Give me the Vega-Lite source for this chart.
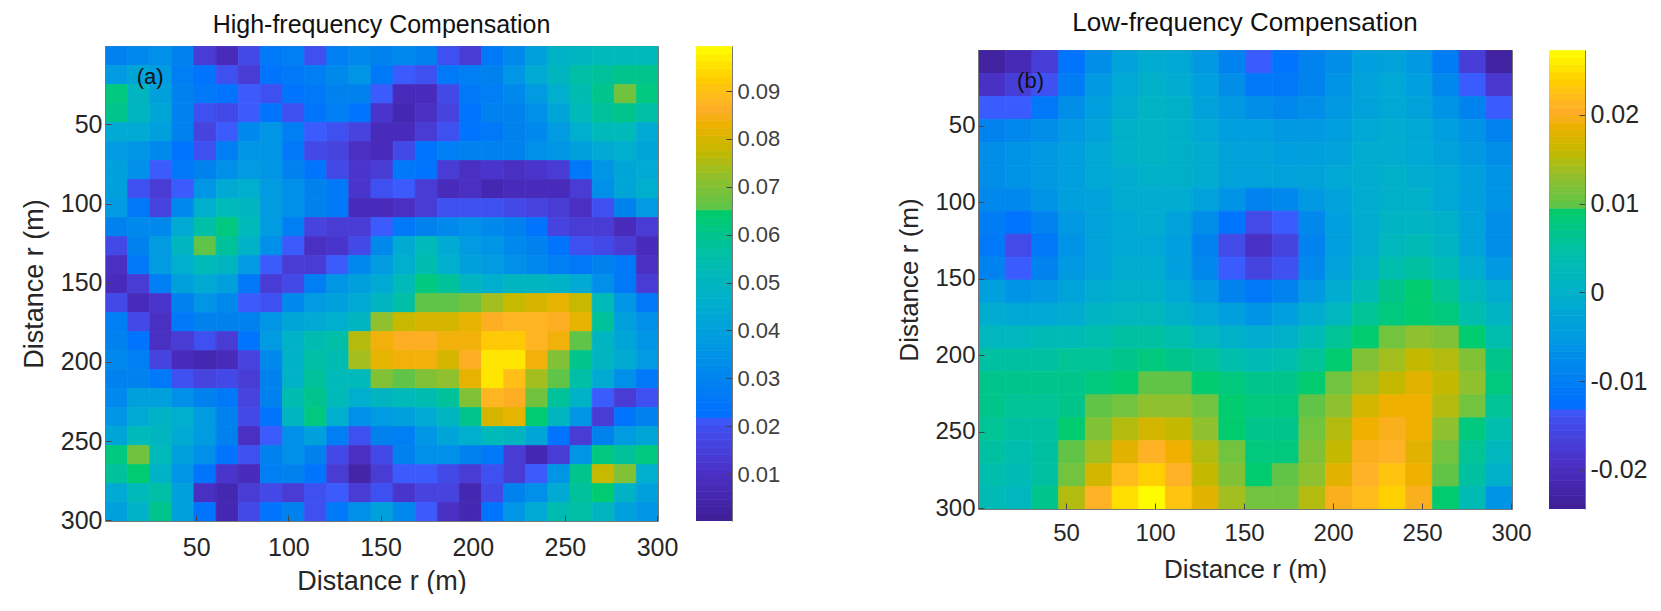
{"$schema":"https://vega.github.io/schema/vega-lite/v6.json","padding":{"left":20,"top":10,"right":0,"bottom":0},"background":"white","bounds":"full","spacing":116,"resolve":{"scale":{"fill":"independent","stroke":"independent"}},"config":{"view":{"stroke":null},"font":"Liberation Sans","axis":{"grid":false,"labelFont":"Liberation Sans","titleFont":"Liberation Sans","titleFontWeight":"normal","labelColor":"#262626","titleColor":"#262626","domainColor":"#777777","tickColor":"#444444","tickSize":-6,"labelFlush":false,"labelOverlap":false},"title":{"font":"Liberation Sans","fontWeight":"normal","color":"#111111"}},
"datasets":{"hf":[
{"x":6,"y":6,"v":0.03},{"x":18,"y":6,"v":0.032},{"x":30,"y":6,"v":0.034},{"x":42,"y":6,"v":0.03},{"x":54,"y":6,"v":0.014},{"x":66,"y":6,"v":0.008},{"x":78,"y":6,"v":0.018},{"x":90,"y":6,"v":0.026},{"x":102,"y":6,"v":0.028},{"x":114,"y":6,"v":0.02},{"x":126,"y":6,"v":0.028},{"x":138,"y":6,"v":0.032},{"x":150,"y":6,"v":0.03},{"x":162,"y":6,"v":0.032},{"x":174,"y":6,"v":0.03},{"x":186,"y":6,"v":0.02},{"x":198,"y":6,"v":0.014},{"x":210,"y":6,"v":0.026},{"x":222,"y":6,"v":0.032},{"x":234,"y":6,"v":0.04},{"x":246,"y":6,"v":0.048},{"x":258,"y":6,"v":0.05},{"x":270,"y":6,"v":0.052},{"x":282,"y":6,"v":0.052},{"x":294,"y":6,"v":0.052},
{"x":6,"y":18,"v":0.038},{"x":18,"y":18,"v":0.042},{"x":30,"y":18,"v":0.038},{"x":42,"y":18,"v":0.028},{"x":54,"y":18,"v":0.024},{"x":66,"y":18,"v":0.02},{"x":78,"y":18,"v":0.014},{"x":90,"y":18,"v":0.024},{"x":102,"y":18,"v":0.026},{"x":114,"y":18,"v":0.028},{"x":126,"y":18,"v":0.032},{"x":138,"y":18,"v":0.036},{"x":150,"y":18,"v":0.026},{"x":162,"y":18,"v":0.022},{"x":174,"y":18,"v":0.02},{"x":186,"y":18,"v":0.026},{"x":198,"y":18,"v":0.028},{"x":210,"y":18,"v":0.03},{"x":222,"y":18,"v":0.036},{"x":234,"y":18,"v":0.044},{"x":246,"y":18,"v":0.05},{"x":258,"y":18,"v":0.056},{"x":270,"y":18,"v":0.058},{"x":282,"y":18,"v":0.06},{"x":294,"y":18,"v":0.06},
{"x":6,"y":30,"v":0.062},{"x":18,"y":30,"v":0.05},{"x":30,"y":30,"v":0.04},{"x":42,"y":30,"v":0.03},{"x":54,"y":30,"v":0.026},{"x":66,"y":30,"v":0.024},{"x":78,"y":30,"v":0.022},{"x":90,"y":30,"v":0.02},{"x":102,"y":30,"v":0.024},{"x":114,"y":30,"v":0.026},{"x":126,"y":30,"v":0.03},{"x":138,"y":30,"v":0.03},{"x":150,"y":30,"v":0.022},{"x":162,"y":30,"v":0.008},{"x":174,"y":30,"v":0.008},{"x":186,"y":30,"v":0.018},{"x":198,"y":30,"v":0.026},{"x":210,"y":30,"v":0.028},{"x":222,"y":30,"v":0.032},{"x":234,"y":30,"v":0.038},{"x":246,"y":30,"v":0.046},{"x":258,"y":30,"v":0.054},{"x":270,"y":30,"v":0.06},{"x":282,"y":30,"v":0.068},{"x":294,"y":30,"v":0.062},
{"x":6,"y":42,"v":0.06},{"x":18,"y":42,"v":0.05},{"x":30,"y":42,"v":0.042},{"x":42,"y":42,"v":0.03},{"x":54,"y":42,"v":0.02},{"x":66,"y":42,"v":0.018},{"x":78,"y":42,"v":0.022},{"x":90,"y":42,"v":0.024},{"x":102,"y":42,"v":0.02},{"x":114,"y":42,"v":0.024},{"x":126,"y":42,"v":0.028},{"x":138,"y":42,"v":0.024},{"x":150,"y":42,"v":0.012},{"x":162,"y":42,"v":0.006},{"x":174,"y":42,"v":0.01},{"x":186,"y":42,"v":0.016},{"x":198,"y":42,"v":0.024},{"x":210,"y":42,"v":0.03},{"x":222,"y":42,"v":0.03},{"x":234,"y":42,"v":0.034},{"x":246,"y":42,"v":0.042},{"x":258,"y":42,"v":0.052},{"x":270,"y":42,"v":0.058},{"x":282,"y":42,"v":0.06},{"x":294,"y":42,"v":0.056},
{"x":6,"y":54,"v":0.044},{"x":18,"y":54,"v":0.044},{"x":30,"y":54,"v":0.04},{"x":42,"y":54,"v":0.03},{"x":54,"y":54,"v":0.016},{"x":66,"y":54,"v":0.022},{"x":78,"y":54,"v":0.032},{"x":90,"y":54,"v":0.036},{"x":102,"y":54,"v":0.028},{"x":114,"y":54,"v":0.022},{"x":126,"y":54,"v":0.02},{"x":138,"y":54,"v":0.016},{"x":150,"y":54,"v":0.008},{"x":162,"y":54,"v":0.008},{"x":174,"y":54,"v":0.014},{"x":186,"y":54,"v":0.02},{"x":198,"y":54,"v":0.024},{"x":210,"y":54,"v":0.026},{"x":222,"y":54,"v":0.03},{"x":234,"y":54,"v":0.032},{"x":246,"y":54,"v":0.038},{"x":258,"y":54,"v":0.046},{"x":270,"y":54,"v":0.052},{"x":282,"y":54,"v":0.052},{"x":294,"y":54,"v":0.044},
{"x":6,"y":66,"v":0.038},{"x":18,"y":66,"v":0.036},{"x":30,"y":66,"v":0.032},{"x":42,"y":66,"v":0.024},{"x":54,"y":66,"v":0.02},{"x":66,"y":66,"v":0.028},{"x":78,"y":66,"v":0.036},{"x":90,"y":66,"v":0.036},{"x":102,"y":66,"v":0.026},{"x":114,"y":66,"v":0.018},{"x":126,"y":66,"v":0.016},{"x":138,"y":66,"v":0.01},{"x":150,"y":66,"v":0.008},{"x":162,"y":66,"v":0.018},{"x":174,"y":66,"v":0.024},{"x":186,"y":66,"v":0.028},{"x":198,"y":66,"v":0.03},{"x":210,"y":66,"v":0.03},{"x":222,"y":66,"v":0.03},{"x":234,"y":66,"v":0.034},{"x":246,"y":66,"v":0.036},{"x":258,"y":66,"v":0.04},{"x":270,"y":66,"v":0.044},{"x":282,"y":66,"v":0.046},{"x":294,"y":66,"v":0.042},
{"x":6,"y":78,"v":0.04},{"x":18,"y":78,"v":0.034},{"x":30,"y":78,"v":0.022},{"x":42,"y":78,"v":0.026},{"x":54,"y":78,"v":0.03},{"x":66,"y":78,"v":0.034},{"x":78,"y":78,"v":0.038},{"x":90,"y":78,"v":0.036},{"x":102,"y":78,"v":0.03},{"x":114,"y":78,"v":0.024},{"x":126,"y":78,"v":0.018},{"x":138,"y":78,"v":0.012},{"x":150,"y":78,"v":0.014},{"x":162,"y":78,"v":0.026},{"x":174,"y":78,"v":0.024},{"x":186,"y":78,"v":0.014},{"x":198,"y":78,"v":0.01},{"x":210,"y":78,"v":0.012},{"x":222,"y":78,"v":0.01},{"x":234,"y":78,"v":0.012},{"x":246,"y":78,"v":0.014},{"x":258,"y":78,"v":0.026},{"x":270,"y":78,"v":0.036},{"x":282,"y":78,"v":0.042},{"x":294,"y":78,"v":0.044},
{"x":6,"y":90,"v":0.04},{"x":18,"y":90,"v":0.02},{"x":30,"y":90,"v":0.014},{"x":42,"y":90,"v":0.022},{"x":54,"y":90,"v":0.036},{"x":66,"y":90,"v":0.044},{"x":78,"y":90,"v":0.046},{"x":90,"y":90,"v":0.038},{"x":102,"y":90,"v":0.034},{"x":114,"y":90,"v":0.03},{"x":126,"y":90,"v":0.026},{"x":138,"y":90,"v":0.012},{"x":150,"y":90,"v":0.02},{"x":162,"y":90,"v":0.022},{"x":174,"y":90,"v":0.014},{"x":186,"y":90,"v":0.008},{"x":198,"y":90,"v":0.01},{"x":210,"y":90,"v":0.006},{"x":222,"y":90,"v":0.008},{"x":234,"y":90,"v":0.008},{"x":246,"y":90,"v":0.008},{"x":258,"y":90,"v":0.014},{"x":270,"y":90,"v":0.034},{"x":282,"y":90,"v":0.042},{"x":294,"y":90,"v":0.046},
{"x":6,"y":102,"v":0.038},{"x":18,"y":102,"v":0.026},{"x":30,"y":102,"v":0.016},{"x":42,"y":102,"v":0.032},{"x":54,"y":102,"v":0.046},{"x":66,"y":102,"v":0.052},{"x":78,"y":102,"v":0.05},{"x":90,"y":102,"v":0.038},{"x":102,"y":102,"v":0.034},{"x":114,"y":102,"v":0.03},{"x":126,"y":102,"v":0.026},{"x":138,"y":102,"v":0.008},{"x":150,"y":102,"v":0.008},{"x":162,"y":102,"v":0.01},{"x":174,"y":102,"v":0.014},{"x":186,"y":102,"v":0.02},{"x":198,"y":102,"v":0.02},{"x":210,"y":102,"v":0.02},{"x":222,"y":102,"v":0.018},{"x":234,"y":102,"v":0.016},{"x":246,"y":102,"v":0.014},{"x":258,"y":102,"v":0.01},{"x":270,"y":102,"v":0.02},{"x":282,"y":102,"v":0.03},{"x":294,"y":102,"v":0.038},
{"x":6,"y":114,"v":0.03},{"x":18,"y":114,"v":0.032},{"x":30,"y":114,"v":0.032},{"x":42,"y":114,"v":0.044},{"x":54,"y":114,"v":0.056},{"x":66,"y":114,"v":0.062},{"x":78,"y":114,"v":0.052},{"x":90,"y":114,"v":0.038},{"x":102,"y":114,"v":0.028},{"x":114,"y":114,"v":0.016},{"x":126,"y":114,"v":0.014},{"x":138,"y":114,"v":0.014},{"x":150,"y":114,"v":0.022},{"x":162,"y":114,"v":0.026},{"x":174,"y":114,"v":0.03},{"x":186,"y":114,"v":0.032},{"x":198,"y":114,"v":0.034},{"x":210,"y":114,"v":0.032},{"x":222,"y":114,"v":0.03},{"x":234,"y":114,"v":0.024},{"x":246,"y":114,"v":0.016},{"x":258,"y":114,"v":0.014},{"x":270,"y":114,"v":0.014},{"x":282,"y":114,"v":0.008},{"x":294,"y":114,"v":0.014},
{"x":6,"y":126,"v":0.018},{"x":18,"y":126,"v":0.03},{"x":30,"y":126,"v":0.038},{"x":42,"y":126,"v":0.05},{"x":54,"y":126,"v":0.066},{"x":66,"y":126,"v":0.058},{"x":78,"y":126,"v":0.048},{"x":90,"y":126,"v":0.034},{"x":102,"y":126,"v":0.022},{"x":114,"y":126,"v":0.01},{"x":126,"y":126,"v":0.012},{"x":138,"y":126,"v":0.018},{"x":150,"y":126,"v":0.032},{"x":162,"y":126,"v":0.044},{"x":174,"y":126,"v":0.052},{"x":186,"y":126,"v":0.044},{"x":198,"y":126,"v":0.038},{"x":210,"y":126,"v":0.036},{"x":222,"y":126,"v":0.032},{"x":234,"y":126,"v":0.03},{"x":246,"y":126,"v":0.024},{"x":258,"y":126,"v":0.02},{"x":270,"y":126,"v":0.018},{"x":282,"y":126,"v":0.014},{"x":294,"y":126,"v":0.008},
{"x":6,"y":138,"v":0.01},{"x":18,"y":138,"v":0.026},{"x":30,"y":138,"v":0.038},{"x":42,"y":138,"v":0.046},{"x":54,"y":138,"v":0.052},{"x":66,"y":138,"v":0.05},{"x":78,"y":138,"v":0.038},{"x":90,"y":138,"v":0.022},{"x":102,"y":138,"v":0.014},{"x":114,"y":138,"v":0.014},{"x":126,"y":138,"v":0.022},{"x":138,"y":138,"v":0.032},{"x":150,"y":138,"v":0.038},{"x":162,"y":138,"v":0.046},{"x":174,"y":138,"v":0.054},{"x":186,"y":138,"v":0.046},{"x":198,"y":138,"v":0.04},{"x":210,"y":138,"v":0.038},{"x":222,"y":138,"v":0.034},{"x":234,"y":138,"v":0.032},{"x":246,"y":138,"v":0.028},{"x":258,"y":138,"v":0.026},{"x":270,"y":138,"v":0.03},{"x":282,"y":138,"v":0.026},{"x":294,"y":138,"v":0.01},
{"x":6,"y":150,"v":0.008},{"x":18,"y":150,"v":0.014},{"x":30,"y":150,"v":0.028},{"x":42,"y":150,"v":0.04},{"x":54,"y":150,"v":0.044},{"x":66,"y":150,"v":0.04},{"x":78,"y":150,"v":0.026},{"x":90,"y":150,"v":0.014},{"x":102,"y":150,"v":0.018},{"x":114,"y":150,"v":0.028},{"x":126,"y":150,"v":0.036},{"x":138,"y":150,"v":0.04},{"x":150,"y":150,"v":0.044},{"x":162,"y":150,"v":0.052},{"x":174,"y":150,"v":0.062},{"x":186,"y":150,"v":0.058},{"x":198,"y":150,"v":0.05},{"x":210,"y":150,"v":0.046},{"x":222,"y":150,"v":0.05},{"x":234,"y":150,"v":0.05},{"x":246,"y":150,"v":0.048},{"x":258,"y":150,"v":0.044},{"x":270,"y":150,"v":0.034},{"x":282,"y":150,"v":0.026},{"x":294,"y":150,"v":0.014},
{"x":6,"y":162,"v":0.018},{"x":18,"y":162,"v":0.008},{"x":30,"y":162,"v":0.012},{"x":42,"y":162,"v":0.03},{"x":54,"y":162,"v":0.036},{"x":66,"y":162,"v":0.032},{"x":78,"y":162,"v":0.022},{"x":90,"y":162,"v":0.02},{"x":102,"y":162,"v":0.032},{"x":114,"y":162,"v":0.038},{"x":126,"y":162,"v":0.04},{"x":138,"y":162,"v":0.044},{"x":150,"y":162,"v":0.05},{"x":162,"y":162,"v":0.056},{"x":174,"y":162,"v":0.066},{"x":186,"y":162,"v":0.066},{"x":198,"y":162,"v":0.068},{"x":210,"y":162,"v":0.074},{"x":222,"y":162,"v":0.078},{"x":234,"y":162,"v":0.08},{"x":246,"y":162,"v":0.082},{"x":258,"y":162,"v":0.078},{"x":270,"y":162,"v":0.052},{"x":282,"y":162,"v":0.036},{"x":294,"y":162,"v":0.026},
{"x":6,"y":174,"v":0.028},{"x":18,"y":174,"v":0.018},{"x":30,"y":174,"v":0.01},{"x":42,"y":174,"v":0.026},{"x":54,"y":174,"v":0.03},{"x":66,"y":174,"v":0.03},{"x":78,"y":174,"v":0.03},{"x":90,"y":174,"v":0.036},{"x":102,"y":174,"v":0.042},{"x":114,"y":174,"v":0.044},{"x":126,"y":174,"v":0.046},{"x":138,"y":174,"v":0.05},{"x":150,"y":174,"v":0.072},{"x":162,"y":174,"v":0.078},{"x":174,"y":174,"v":0.08},{"x":186,"y":174,"v":0.08},{"x":198,"y":174,"v":0.082},{"x":210,"y":174,"v":0.086},{"x":222,"y":174,"v":0.088},{"x":234,"y":174,"v":0.088},{"x":246,"y":174,"v":0.086},{"x":258,"y":174,"v":0.082},{"x":270,"y":174,"v":0.058},{"x":282,"y":174,"v":0.04},{"x":294,"y":174,"v":0.034},
{"x":6,"y":186,"v":0.03},{"x":18,"y":186,"v":0.024},{"x":30,"y":186,"v":0.01},{"x":42,"y":186,"v":0.014},{"x":54,"y":186,"v":0.02},{"x":66,"y":186,"v":0.014},{"x":78,"y":186,"v":0.024},{"x":90,"y":186,"v":0.038},{"x":102,"y":186,"v":0.048},{"x":114,"y":186,"v":0.054},{"x":126,"y":186,"v":0.056},{"x":138,"y":186,"v":0.076},{"x":150,"y":186,"v":0.084},{"x":162,"y":186,"v":0.086},{"x":174,"y":186,"v":0.086},{"x":186,"y":186,"v":0.084},{"x":198,"y":186,"v":0.084},{"x":210,"y":186,"v":0.092},{"x":222,"y":186,"v":0.092},{"x":234,"y":186,"v":0.088},{"x":246,"y":186,"v":0.084},{"x":258,"y":186,"v":0.066},{"x":270,"y":186,"v":0.05},{"x":282,"y":186,"v":0.042},{"x":294,"y":186,"v":0.036},
{"x":6,"y":198,"v":0.032},{"x":18,"y":198,"v":0.028},{"x":30,"y":198,"v":0.016},{"x":42,"y":198,"v":0.008},{"x":54,"y":198,"v":0.006},{"x":66,"y":198,"v":0.008},{"x":78,"y":198,"v":0.016},{"x":90,"y":198,"v":0.032},{"x":102,"y":198,"v":0.048},{"x":114,"y":198,"v":0.056},{"x":126,"y":198,"v":0.054},{"x":138,"y":198,"v":0.074},{"x":150,"y":198,"v":0.082},{"x":162,"y":198,"v":0.084},{"x":174,"y":198,"v":0.084},{"x":186,"y":198,"v":0.08},{"x":198,"y":198,"v":0.086},{"x":210,"y":198,"v":0.096},{"x":222,"y":198,"v":0.096},{"x":234,"y":198,"v":0.084},{"x":246,"y":198,"v":0.07},{"x":258,"y":198,"v":0.06},{"x":270,"y":198,"v":0.05},{"x":282,"y":198,"v":0.044},{"x":294,"y":198,"v":0.038},
{"x":6,"y":210,"v":0.03},{"x":18,"y":210,"v":0.03},{"x":30,"y":210,"v":0.026},{"x":42,"y":210,"v":0.02},{"x":54,"y":210,"v":0.016},{"x":66,"y":210,"v":0.018},{"x":78,"y":210,"v":0.014},{"x":90,"y":210,"v":0.03},{"x":102,"y":210,"v":0.048},{"x":114,"y":210,"v":0.058},{"x":126,"y":210,"v":0.052},{"x":138,"y":210,"v":0.052},{"x":150,"y":210,"v":0.07},{"x":162,"y":210,"v":0.066},{"x":174,"y":210,"v":0.07},{"x":186,"y":210,"v":0.072},{"x":198,"y":210,"v":0.082},{"x":210,"y":210,"v":0.096},{"x":222,"y":210,"v":0.09},{"x":234,"y":210,"v":0.074},{"x":246,"y":210,"v":0.066},{"x":258,"y":210,"v":0.056},{"x":270,"y":210,"v":0.044},{"x":282,"y":210,"v":0.034},{"x":294,"y":210,"v":0.026},
{"x":6,"y":222,"v":0.032},{"x":18,"y":222,"v":0.04},{"x":30,"y":222,"v":0.04},{"x":42,"y":222,"v":0.034},{"x":54,"y":222,"v":0.03},{"x":66,"y":222,"v":0.026},{"x":78,"y":222,"v":0.016},{"x":90,"y":222,"v":0.03},{"x":102,"y":222,"v":0.054},{"x":114,"y":222,"v":0.06},{"x":126,"y":222,"v":0.052},{"x":138,"y":222,"v":0.046},{"x":150,"y":222,"v":0.05},{"x":162,"y":222,"v":0.052},{"x":174,"y":222,"v":0.054},{"x":186,"y":222,"v":0.058},{"x":198,"y":222,"v":0.07},{"x":210,"y":222,"v":0.088},{"x":222,"y":222,"v":0.086},{"x":234,"y":222,"v":0.068},{"x":246,"y":222,"v":0.058},{"x":258,"y":222,"v":0.048},{"x":270,"y":222,"v":0.022},{"x":282,"y":222,"v":0.014},{"x":294,"y":222,"v":0.02},
{"x":6,"y":234,"v":0.036},{"x":18,"y":234,"v":0.044},{"x":30,"y":234,"v":0.048},{"x":42,"y":234,"v":0.046},{"x":54,"y":234,"v":0.038},{"x":66,"y":234,"v":0.03},{"x":78,"y":234,"v":0.018},{"x":90,"y":234,"v":0.024},{"x":102,"y":234,"v":0.05},{"x":114,"y":234,"v":0.062},{"x":126,"y":234,"v":0.046},{"x":138,"y":234,"v":0.034},{"x":150,"y":234,"v":0.038},{"x":162,"y":234,"v":0.04},{"x":174,"y":234,"v":0.044},{"x":186,"y":234,"v":0.05},{"x":198,"y":234,"v":0.06},{"x":210,"y":234,"v":0.08},{"x":222,"y":234,"v":0.082},{"x":234,"y":234,"v":0.064},{"x":246,"y":234,"v":0.05},{"x":258,"y":234,"v":0.036},{"x":270,"y":234,"v":0.014},{"x":282,"y":234,"v":0.024},{"x":294,"y":234,"v":0.03},
{"x":6,"y":246,"v":0.042},{"x":18,"y":246,"v":0.052},{"x":30,"y":246,"v":0.05},{"x":42,"y":246,"v":0.044},{"x":54,"y":246,"v":0.038},{"x":66,"y":246,"v":0.03},{"x":78,"y":246,"v":0.01},{"x":90,"y":246,"v":0.022},{"x":102,"y":246,"v":0.034},{"x":114,"y":246,"v":0.04},{"x":126,"y":246,"v":0.028},{"x":138,"y":246,"v":0.02},{"x":150,"y":246,"v":0.03},{"x":162,"y":246,"v":0.028},{"x":174,"y":246,"v":0.036},{"x":186,"y":246,"v":0.042},{"x":198,"y":246,"v":0.046},{"x":210,"y":246,"v":0.052},{"x":222,"y":246,"v":0.05},{"x":234,"y":246,"v":0.042},{"x":246,"y":246,"v":0.024},{"x":258,"y":246,"v":0.014},{"x":270,"y":246,"v":0.03},{"x":282,"y":246,"v":0.038},{"x":294,"y":246,"v":0.042},
{"x":6,"y":258,"v":0.062},{"x":18,"y":258,"v":0.068},{"x":30,"y":258,"v":0.052},{"x":42,"y":258,"v":0.04},{"x":54,"y":258,"v":0.034},{"x":66,"y":258,"v":0.024},{"x":78,"y":258,"v":0.02},{"x":90,"y":258,"v":0.03},{"x":102,"y":258,"v":0.034},{"x":114,"y":258,"v":0.03},{"x":126,"y":258,"v":0.018},{"x":138,"y":258,"v":0.01},{"x":150,"y":258,"v":0.018},{"x":162,"y":258,"v":0.03},{"x":174,"y":258,"v":0.034},{"x":186,"y":258,"v":0.034},{"x":198,"y":258,"v":0.03},{"x":210,"y":258,"v":0.026},{"x":222,"y":258,"v":0.014},{"x":234,"y":258,"v":0.006},{"x":246,"y":258,"v":0.014},{"x":258,"y":258,"v":0.036},{"x":270,"y":258,"v":0.062},{"x":282,"y":258,"v":0.058},{"x":294,"y":258,"v":0.062},
{"x":6,"y":270,"v":0.058},{"x":18,"y":270,"v":0.064},{"x":30,"y":270,"v":0.048},{"x":42,"y":270,"v":0.036},{"x":54,"y":270,"v":0.024},{"x":66,"y":270,"v":0.012},{"x":78,"y":270,"v":0.008},{"x":90,"y":270,"v":0.028},{"x":102,"y":270,"v":0.03},{"x":114,"y":270,"v":0.024},{"x":126,"y":270,"v":0.014},{"x":138,"y":270,"v":0.004},{"x":150,"y":270,"v":0.014},{"x":162,"y":270,"v":0.022},{"x":174,"y":270,"v":0.022},{"x":186,"y":270,"v":0.018},{"x":198,"y":270,"v":0.014},{"x":210,"y":270,"v":0.02},{"x":222,"y":270,"v":0.014},{"x":234,"y":270,"v":0.022},{"x":246,"y":270,"v":0.036},{"x":258,"y":270,"v":0.06},{"x":270,"y":270,"v":0.078},{"x":282,"y":270,"v":0.07},{"x":294,"y":270,"v":0.046},
{"x":6,"y":282,"v":0.044},{"x":18,"y":282,"v":0.052},{"x":30,"y":282,"v":0.056},{"x":42,"y":282,"v":0.04},{"x":54,"y":282,"v":0.01},{"x":66,"y":282,"v":0.006},{"x":78,"y":282,"v":0.014},{"x":90,"y":282,"v":0.018},{"x":102,"y":282,"v":0.014},{"x":114,"y":282,"v":0.02},{"x":126,"y":282,"v":0.022},{"x":138,"y":282,"v":0.014},{"x":150,"y":282,"v":0.02},{"x":162,"y":282,"v":0.012},{"x":174,"y":282,"v":0.016},{"x":186,"y":282,"v":0.016},{"x":198,"y":282,"v":0.006},{"x":210,"y":282,"v":0.018},{"x":222,"y":282,"v":0.03},{"x":234,"y":282,"v":0.034},{"x":246,"y":282,"v":0.044},{"x":258,"y":282,"v":0.058},{"x":270,"y":282,"v":0.064},{"x":282,"y":282,"v":0.048},{"x":294,"y":282,"v":0.04},
{"x":6,"y":294,"v":0.04},{"x":18,"y":294,"v":0.048},{"x":30,"y":294,"v":0.06},{"x":42,"y":294,"v":0.04},{"x":54,"y":294,"v":0.024},{"x":66,"y":294,"v":0.006},{"x":78,"y":294,"v":0.018},{"x":90,"y":294,"v":0.024},{"x":102,"y":294,"v":0.03},{"x":114,"y":294,"v":0.02},{"x":126,"y":294,"v":0.026},{"x":138,"y":294,"v":0.034},{"x":150,"y":294,"v":0.04},{"x":162,"y":294,"v":0.032},{"x":174,"y":294,"v":0.022},{"x":186,"y":294,"v":0.01},{"x":198,"y":294,"v":0.006},{"x":210,"y":294,"v":0.024},{"x":222,"y":294,"v":0.036},{"x":234,"y":294,"v":0.044},{"x":246,"y":294,"v":0.054},{"x":258,"y":294,"v":0.056},{"x":270,"y":294,"v":0.05},{"x":282,"y":294,"v":0.04},{"x":294,"y":294,"v":0.036}
],"lf":[
{"x":8,"y":8,"v":-0.023},{"x":23,"y":8,"v":-0.021},{"x":38,"y":8,"v":-0.017},{"x":53,"y":8,"v":-0.012},{"x":68,"y":8,"v":-0.007},{"x":83,"y":8,"v":-0.003},{"x":98,"y":8,"v":-0.001},{"x":113,"y":8,"v":-0.002},{"x":128,"y":8,"v":-0.005},{"x":143,"y":8,"v":-0.009},{"x":158,"y":8,"v":-0.013},{"x":173,"y":8,"v":-0.012},{"x":188,"y":8,"v":-0.009},{"x":203,"y":8,"v":-0.007},{"x":218,"y":8,"v":-0.004},{"x":233,"y":8,"v":-0.003},{"x":248,"y":8,"v":-0.005},{"x":263,"y":8,"v":-0.01},{"x":278,"y":8,"v":-0.017},{"x":293,"y":8,"v":-0.023},
{"x":8,"y":23,"v":-0.019},{"x":23,"y":23,"v":-0.017},{"x":38,"y":23,"v":-0.014},{"x":53,"y":23,"v":-0.01},{"x":68,"y":23,"v":-0.005},{"x":83,"y":23,"v":-0.002},{"x":98,"y":23,"v":0},{"x":113,"y":23,"v":-0.001},{"x":128,"y":23,"v":-0.004},{"x":143,"y":23,"v":-0.007},{"x":158,"y":23,"v":-0.011},{"x":173,"y":23,"v":-0.011},{"x":188,"y":23,"v":-0.009},{"x":203,"y":23,"v":-0.006},{"x":218,"y":23,"v":-0.003},{"x":233,"y":23,"v":-0.002},{"x":248,"y":23,"v":-0.004},{"x":263,"y":23,"v":-0.008},{"x":278,"y":23,"v":-0.013},{"x":293,"y":23,"v":-0.018},
{"x":8,"y":38,"v":-0.013},{"x":23,"y":38,"v":-0.013},{"x":38,"y":38,"v":-0.011},{"x":53,"y":38,"v":-0.007},{"x":68,"y":38,"v":-0.004},{"x":83,"y":38,"v":-0.001},{"x":98,"y":38,"v":0.001},{"x":113,"y":38,"v":0},{"x":128,"y":38,"v":-0.003},{"x":143,"y":38,"v":-0.005},{"x":158,"y":38,"v":-0.007},{"x":173,"y":38,"v":-0.008},{"x":188,"y":38,"v":-0.007},{"x":203,"y":38,"v":-0.005},{"x":218,"y":38,"v":-0.003},{"x":233,"y":38,"v":-0.002},{"x":248,"y":38,"v":-0.003},{"x":263,"y":38,"v":-0.006},{"x":278,"y":38,"v":-0.009},{"x":293,"y":38,"v":-0.013},
{"x":8,"y":53,"v":-0.009},{"x":23,"y":53,"v":-0.008},{"x":38,"y":53,"v":-0.007},{"x":53,"y":53,"v":-0.005},{"x":68,"y":53,"v":-0.003},{"x":83,"y":53,"v":0},{"x":98,"y":53,"v":0.001},{"x":113,"y":53,"v":0},{"x":128,"y":53,"v":-0.002},{"x":143,"y":53,"v":-0.004},{"x":158,"y":53,"v":-0.004},{"x":173,"y":53,"v":-0.005},{"x":188,"y":53,"v":-0.005},{"x":203,"y":53,"v":-0.004},{"x":218,"y":53,"v":-0.002},{"x":233,"y":53,"v":-0.001},{"x":248,"y":53,"v":-0.002},{"x":263,"y":53,"v":-0.004},{"x":278,"y":53,"v":-0.006},{"x":293,"y":53,"v":-0.009},
{"x":8,"y":68,"v":-0.007},{"x":23,"y":68,"v":-0.006},{"x":38,"y":68,"v":-0.005},{"x":53,"y":68,"v":-0.004},{"x":68,"y":68,"v":-0.002},{"x":83,"y":68,"v":0},{"x":98,"y":68,"v":0.001},{"x":113,"y":68,"v":0},{"x":128,"y":68,"v":-0.001},{"x":143,"y":68,"v":-0.003},{"x":158,"y":68,"v":-0.003},{"x":173,"y":68,"v":-0.004},{"x":188,"y":68,"v":-0.004},{"x":203,"y":68,"v":-0.003},{"x":218,"y":68,"v":-0.001},{"x":233,"y":68,"v":-0.001},{"x":248,"y":68,"v":-0.002},{"x":263,"y":68,"v":-0.003},{"x":278,"y":68,"v":-0.005},{"x":293,"y":68,"v":-0.007},
{"x":8,"y":83,"v":-0.007},{"x":23,"y":83,"v":-0.006},{"x":38,"y":83,"v":-0.005},{"x":53,"y":83,"v":-0.004},{"x":68,"y":83,"v":-0.002},{"x":83,"y":83,"v":-0.001},{"x":98,"y":83,"v":0},{"x":113,"y":83,"v":0},{"x":128,"y":83,"v":-0.001},{"x":143,"y":83,"v":-0.003},{"x":158,"y":83,"v":-0.003},{"x":173,"y":83,"v":-0.003},{"x":188,"y":83,"v":-0.003},{"x":203,"y":83,"v":-0.002},{"x":218,"y":83,"v":-0.001},{"x":233,"y":83,"v":0},{"x":248,"y":83,"v":-0.001},{"x":263,"y":83,"v":-0.002},{"x":278,"y":83,"v":-0.004},{"x":293,"y":83,"v":-0.006},
{"x":8,"y":98,"v":-0.008},{"x":23,"y":98,"v":-0.008},{"x":38,"y":98,"v":-0.006},{"x":53,"y":98,"v":-0.004},{"x":68,"y":98,"v":-0.003},{"x":83,"y":98,"v":-0.001},{"x":98,"y":98,"v":-0.001},{"x":113,"y":98,"v":-0.001},{"x":128,"y":98,"v":-0.003},{"x":143,"y":98,"v":-0.006},{"x":158,"y":98,"v":-0.009},{"x":173,"y":98,"v":-0.008},{"x":188,"y":98,"v":-0.005},{"x":203,"y":98,"v":-0.003},{"x":218,"y":98,"v":-0.001},{"x":233,"y":98,"v":0},{"x":248,"y":98,"v":0},{"x":263,"y":98,"v":-0.002},{"x":278,"y":98,"v":-0.004},{"x":293,"y":98,"v":-0.006},
{"x":8,"y":113,"v":-0.01},{"x":23,"y":113,"v":-0.012},{"x":38,"y":113,"v":-0.009},{"x":53,"y":113,"v":-0.005},{"x":68,"y":113,"v":-0.003},{"x":83,"y":113,"v":-0.002},{"x":98,"y":113,"v":-0.001},{"x":113,"y":113,"v":-0.003},{"x":128,"y":113,"v":-0.007},{"x":143,"y":113,"v":-0.012},{"x":158,"y":113,"v":-0.015},{"x":173,"y":113,"v":-0.013},{"x":188,"y":113,"v":-0.008},{"x":203,"y":113,"v":-0.004},{"x":218,"y":113,"v":-0.001},{"x":233,"y":113,"v":0.001},{"x":248,"y":113,"v":0.001},{"x":263,"y":113,"v":0},{"x":278,"y":113,"v":-0.003},{"x":293,"y":113,"v":-0.007},
{"x":8,"y":128,"v":-0.011},{"x":23,"y":128,"v":-0.015},{"x":38,"y":128,"v":-0.011},{"x":53,"y":128,"v":-0.006},{"x":68,"y":128,"v":-0.003},{"x":83,"y":128,"v":-0.002},{"x":98,"y":128,"v":-0.002},{"x":113,"y":128,"v":-0.004},{"x":128,"y":128,"v":-0.009},{"x":143,"y":128,"v":-0.015},{"x":158,"y":128,"v":-0.019},{"x":173,"y":128,"v":-0.016},{"x":188,"y":128,"v":-0.009},{"x":203,"y":128,"v":-0.004},{"x":218,"y":128,"v":-0.001},{"x":233,"y":128,"v":0.002},{"x":248,"y":128,"v":0.003},{"x":263,"y":128,"v":0.001},{"x":278,"y":128,"v":-0.003},{"x":293,"y":128,"v":-0.007},
{"x":8,"y":143,"v":-0.009},{"x":23,"y":143,"v":-0.013},{"x":38,"y":143,"v":-0.009},{"x":53,"y":143,"v":-0.005},{"x":68,"y":143,"v":-0.003},{"x":83,"y":143,"v":-0.001},{"x":98,"y":143,"v":-0.001},{"x":113,"y":143,"v":-0.004},{"x":128,"y":143,"v":-0.008},{"x":143,"y":143,"v":-0.013},{"x":158,"y":143,"v":-0.016},{"x":173,"y":143,"v":-0.014},{"x":188,"y":143,"v":-0.008},{"x":203,"y":143,"v":-0.003},{"x":218,"y":143,"v":0},{"x":233,"y":143,"v":0.004},{"x":248,"y":143,"v":0.005},{"x":263,"y":143,"v":0.003},{"x":278,"y":143,"v":-0.001},{"x":293,"y":143,"v":-0.005},
{"x":8,"y":158,"v":-0.004},{"x":23,"y":158,"v":-0.006},{"x":38,"y":158,"v":-0.005},{"x":53,"y":158,"v":-0.003},{"x":68,"y":158,"v":-0.001},{"x":83,"y":158,"v":0},{"x":98,"y":158,"v":0},{"x":113,"y":158,"v":-0.002},{"x":128,"y":158,"v":-0.005},{"x":143,"y":158,"v":-0.009},{"x":158,"y":158,"v":-0.011},{"x":173,"y":158,"v":-0.009},{"x":188,"y":158,"v":-0.005},{"x":203,"y":158,"v":-0.001},{"x":218,"y":158,"v":0.003},{"x":233,"y":158,"v":0.007},{"x":248,"y":158,"v":0.009},{"x":263,"y":158,"v":0.006},{"x":278,"y":158,"v":0.002},{"x":293,"y":158,"v":-0.001},
{"x":8,"y":173,"v":-0.001},{"x":23,"y":173,"v":-0.002},{"x":38,"y":173,"v":-0.002},{"x":53,"y":173,"v":-0.001},{"x":68,"y":173,"v":0.001},{"x":83,"y":173,"v":0.002},{"x":98,"y":173,"v":0.002},{"x":113,"y":173,"v":0},{"x":128,"y":173,"v":-0.002},{"x":143,"y":173,"v":-0.004},{"x":158,"y":173,"v":-0.006},{"x":173,"y":173,"v":-0.004},{"x":188,"y":173,"v":-0.001},{"x":203,"y":173,"v":0.002},{"x":218,"y":173,"v":0.006},{"x":233,"y":173,"v":0.008},{"x":248,"y":173,"v":0.009},{"x":263,"y":173,"v":0.008},{"x":278,"y":173,"v":0.004},{"x":293,"y":173,"v":0.001},
{"x":8,"y":188,"v":0.002},{"x":23,"y":188,"v":0.002},{"x":38,"y":188,"v":0.003},{"x":53,"y":188,"v":0.003},{"x":68,"y":188,"v":0.004},{"x":83,"y":188,"v":0.005},{"x":98,"y":188,"v":0.005},{"x":113,"y":188,"v":0.004},{"x":128,"y":188,"v":0.002},{"x":143,"y":188,"v":0},{"x":158,"y":188,"v":-0.001},{"x":173,"y":188,"v":0},{"x":188,"y":188,"v":0.003},{"x":203,"y":188,"v":0.006},{"x":218,"y":188,"v":0.009},{"x":233,"y":188,"v":0.011},{"x":248,"y":188,"v":0.013},{"x":263,"y":188,"v":0.012},{"x":278,"y":188,"v":0.009},{"x":293,"y":188,"v":0.004},
{"x":8,"y":203,"v":0.005},{"x":23,"y":203,"v":0.005},{"x":38,"y":203,"v":0.005},{"x":53,"y":203,"v":0.006},{"x":68,"y":203,"v":0.006},{"x":83,"y":203,"v":0.007},{"x":98,"y":203,"v":0.008},{"x":113,"y":203,"v":0.007},{"x":128,"y":203,"v":0.006},{"x":143,"y":203,"v":0.004},{"x":158,"y":203,"v":0.003},{"x":173,"y":203,"v":0.004},{"x":188,"y":203,"v":0.006},{"x":203,"y":203,"v":0.009},{"x":218,"y":203,"v":0.012},{"x":233,"y":203,"v":0.014},{"x":248,"y":203,"v":0.016},{"x":263,"y":203,"v":0.015},{"x":278,"y":203,"v":0.012},{"x":293,"y":203,"v":0.007},
{"x":8,"y":218,"v":0.007},{"x":23,"y":218,"v":0.007},{"x":38,"y":218,"v":0.007},{"x":53,"y":218,"v":0.007},{"x":68,"y":218,"v":0.008},{"x":83,"y":218,"v":0.009},{"x":98,"y":218,"v":0.01},{"x":113,"y":218,"v":0.01},{"x":128,"y":218,"v":0.009},{"x":143,"y":218,"v":0.008},{"x":158,"y":218,"v":0.007},{"x":173,"y":218,"v":0.007},{"x":188,"y":218,"v":0.009},{"x":203,"y":218,"v":0.011},{"x":218,"y":218,"v":0.014},{"x":233,"y":218,"v":0.016},{"x":248,"y":218,"v":0.018},{"x":263,"y":218,"v":0.016},{"x":278,"y":218,"v":0.013},{"x":293,"y":218,"v":0.008},
{"x":8,"y":233,"v":0.007},{"x":23,"y":233,"v":0.006},{"x":38,"y":233,"v":0.006},{"x":53,"y":233,"v":0.007},{"x":68,"y":233,"v":0.01},{"x":83,"y":233,"v":0.011},{"x":98,"y":233,"v":0.013},{"x":113,"y":233,"v":0.013},{"x":128,"y":233,"v":0.011},{"x":143,"y":233,"v":0.009},{"x":158,"y":233,"v":0.008},{"x":173,"y":233,"v":0.008},{"x":188,"y":233,"v":0.01},{"x":203,"y":233,"v":0.013},{"x":218,"y":233,"v":0.017},{"x":233,"y":233,"v":0.019},{"x":248,"y":233,"v":0.019},{"x":263,"y":233,"v":0.015},{"x":278,"y":233,"v":0.011},{"x":293,"y":233,"v":0.006},
{"x":8,"y":248,"v":0.006},{"x":23,"y":248,"v":0.005},{"x":38,"y":248,"v":0.005},{"x":53,"y":248,"v":0.009},{"x":68,"y":248,"v":0.012},{"x":83,"y":248,"v":0.015},{"x":98,"y":248,"v":0.017},{"x":113,"y":248,"v":0.016},{"x":128,"y":248,"v":0.013},{"x":143,"y":248,"v":0.009},{"x":158,"y":248,"v":0.007},{"x":173,"y":248,"v":0.007},{"x":188,"y":248,"v":0.011},{"x":203,"y":248,"v":0.015},{"x":218,"y":248,"v":0.019},{"x":233,"y":248,"v":0.02},{"x":248,"y":248,"v":0.019},{"x":263,"y":248,"v":0.013},{"x":278,"y":248,"v":0.008},{"x":293,"y":248,"v":0.004},
{"x":8,"y":263,"v":0.005},{"x":23,"y":263,"v":0.004},{"x":38,"y":263,"v":0.005},{"x":53,"y":263,"v":0.01},{"x":68,"y":263,"v":0.014},{"x":83,"y":263,"v":0.018},{"x":98,"y":263,"v":0.021},{"x":113,"y":263,"v":0.019},{"x":128,"y":263,"v":0.015},{"x":143,"y":263,"v":0.011},{"x":158,"y":263,"v":0.008},{"x":173,"y":263,"v":0.008},{"x":188,"y":263,"v":0.012},{"x":203,"y":263,"v":0.016},{"x":218,"y":263,"v":0.02},{"x":233,"y":263,"v":0.021},{"x":248,"y":263,"v":0.018},{"x":263,"y":263,"v":0.011},{"x":278,"y":263,"v":0.006},{"x":293,"y":263,"v":0.002},
{"x":8,"y":278,"v":0.004},{"x":23,"y":278,"v":0.003},{"x":38,"y":278,"v":0.005},{"x":53,"y":278,"v":0.011},{"x":68,"y":278,"v":0.017},{"x":83,"y":278,"v":0.022},{"x":98,"y":278,"v":0.024},{"x":113,"y":278,"v":0.021},{"x":128,"y":278,"v":0.016},{"x":143,"y":278,"v":0.012},{"x":158,"y":278,"v":0.009},{"x":173,"y":278,"v":0.01},{"x":188,"y":278,"v":0.013},{"x":203,"y":278,"v":0.018},{"x":218,"y":278,"v":0.021},{"x":233,"y":278,"v":0.023},{"x":248,"y":278,"v":0.019},{"x":263,"y":278,"v":0.01},{"x":278,"y":278,"v":0.005},{"x":293,"y":278,"v":0},
{"x":8,"y":293,"v":0.003},{"x":23,"y":293,"v":0.002},{"x":38,"y":293,"v":0.007},{"x":53,"y":293,"v":0.015},{"x":68,"y":293,"v":0.021},{"x":83,"y":293,"v":0.025},{"x":98,"y":293,"v":0.027},{"x":113,"y":293,"v":0.023},{"x":128,"y":293,"v":0.018},{"x":143,"y":293,"v":0.014},{"x":158,"y":293,"v":0.011},{"x":173,"y":293,"v":0.011},{"x":188,"y":293,"v":0.015},{"x":203,"y":293,"v":0.02},{"x":218,"y":293,"v":0.022},{"x":233,"y":293,"v":0.024},{"x":248,"y":293,"v":0.02},{"x":263,"y":293,"v":0.009},{"x":278,"y":293,"v":0.003},{"x":293,"y":293,"v":-0.006}
],
"cba":[{"v":0.000975},{"v":0.002525},{"v":0.004075},{"v":0.005625},{"v":0.007175},{"v":0.008725},{"v":0.010275},{"v":0.011825},{"v":0.013375},{"v":0.014925},{"v":0.016475},{"v":0.018025},{"v":0.019575},{"v":0.021125},{"v":0.022675},{"v":0.024225},{"v":0.025775},{"v":0.027325},{"v":0.028875},{"v":0.030425},{"v":0.031975},{"v":0.033525},{"v":0.035075},{"v":0.036625},{"v":0.038175},{"v":0.039725},{"v":0.041275},{"v":0.042825},{"v":0.044375},{"v":0.045925},{"v":0.047475},{"v":0.049025},{"v":0.050575},{"v":0.052125},{"v":0.053675},{"v":0.055225},{"v":0.056775},{"v":0.058325},{"v":0.059875},{"v":0.061425},{"v":0.062975},{"v":0.064525},{"v":0.066075},{"v":0.067625},{"v":0.069175},{"v":0.070725},{"v":0.072275},{"v":0.073825},{"v":0.075375},{"v":0.076925},{"v":0.078475},{"v":0.080025},{"v":0.081575},{"v":0.083125},{"v":0.084675},{"v":0.086225},{"v":0.087775},{"v":0.089325},{"v":0.090875},{"v":0.092425},{"v":0.093975},{"v":0.095525},{"v":0.097075},{"v":0.098625}],
"cbb":[{"v":-0.023996},{"v":-0.023188},{"v":-0.02238},{"v":-0.021572},{"v":-0.020764},{"v":-0.019956},{"v":-0.019148},{"v":-0.01834},{"v":-0.017532},{"v":-0.016724},{"v":-0.015916},{"v":-0.015108},{"v":-0.0143},{"v":-0.013492},{"v":-0.012684},{"v":-0.011876},{"v":-0.011068},{"v":-0.01026},{"v":-0.009452},{"v":-0.008644},{"v":-0.007836},{"v":-0.007028},{"v":-0.00622},{"v":-0.005412},{"v":-0.004604},{"v":-0.003796},{"v":-0.002988},{"v":-0.00218},{"v":-0.001372},{"v":-0.000564},{"v":0.000244},{"v":0.001052},{"v":0.00186},{"v":0.002668},{"v":0.003476},{"v":0.004284},{"v":0.005092},{"v":0.0059},{"v":0.006708},{"v":0.007516},{"v":0.008324},{"v":0.009132},{"v":0.00994},{"v":0.010748},{"v":0.011556},{"v":0.012364},{"v":0.013172},{"v":0.01398},{"v":0.014788},{"v":0.015596},{"v":0.016404},{"v":0.017212},{"v":0.01802},{"v":0.018828},{"v":0.019636},{"v":0.020444},{"v":0.021252},{"v":0.02206},{"v":0.022868},{"v":0.023676},{"v":0.024484},{"v":0.025292},{"v":0.0261},{"v":0.026908}]},
"hconcat":[
{"bounds":"flush","spacing":38,"hconcat":[
{"width":553,"height":475,"title":{"text":"High-frequency Compensation","offset":8,"fontSize":25},
"resolve":{"axis":{"x":"independent","y":"independent"}},
"layer":[
{"data":{"name":"hf"},"mark":{"type":"rect","strokeWidth":0.7,"clip":true},"encoding":{
"x":{"field":"x","type":"quantitative","bin":{"extent":[0.5,300.5],"step":12,"nice":false},"scale":{"domain":[0.5,300.5],"nice":false,"zero":false},"title":"Distance r (m)","axis":{"values":[50,100,150,200,250,300],"labelFontSize":25,"titleFontSize":27,"labelPadding":20,"titlePadding":8}},
"y":{"field":"y","type":"quantitative","bin":{"extent":[0.5,300.5],"step":12,"nice":false},"scale":{"domain":[0.5,300.5],"nice":false,"zero":false,"range":[0,475]},"title":"Distance r (m)","axis":{"values":[50,100,150,200,250,300],"labelFontSize":25,"titleFontSize":27,"labelPadding":9,"titlePadding":12}},
"fill":{"field":"v","type":"quantitative","legend":null,"scale":{"domain":[0.0002,0.01012,0.02004,0.02222,0.02262,0.03,0.03988,0.0498,0.05972,0.06518,0.06567,0.07162,0.07758,0.08353,0.0865,0.09246,0.0994],"range":["#3e1f96","#4a2fc4","#3f50f0","#3a5cff","#0070ff","#0082ee","#00a0dc","#00b5c0","#00c48e","#00cc66","#5cc448","#8cc030","#c4b800","#f0b000","#ffae28","#ffcc00","#ffff00"]}},
"stroke":{"field":"v","type":"quantitative","legend":null,"scale":{"domain":[0.0002,0.01012,0.02004,0.02222,0.02262,0.03,0.03988,0.0498,0.05972,0.06518,0.06567,0.07162,0.07758,0.08353,0.0865,0.09246,0.0994],"range":["#3e1f96","#4a2fc4","#3f50f0","#3a5cff","#0070ff","#0082ee","#00a0dc","#00b5c0","#00c48e","#00cc66","#5cc448","#8cc030","#c4b800","#f0b000","#ffae28","#ffcc00","#ffff00"]}}}},
{"data":{"values":[{"x":25,"y":20,"t":"(a)"}]},"mark":{"type":"text","fontSize":22,"color":"#111111"},"encoding":{"x":{"field":"x","type":"quantitative","axis":{"orient":"top","labels":false,"title":null,"values":[50,100,150,200,250,300]}},"y":{"field":"y","type":"quantitative","axis":{"orient":"right","labels":false,"title":null,"values":[50,100,150,200,250,300]}},"text":{"field":"t"}}}
]},
{"width":36,"height":475,"data":{"name":"cba"},"mark":{"type":"rect","strokeWidth":0.7,"clip":true},"encoding":{
"y":{"field":"v","type":"quantitative","bin":{"extent":[0.0002,0.0994],"step":0.00155,"nice":false},"scale":{"domain":[0.0002,0.0994],"nice":false,"zero":false},"title":null,"axis":{"orient":"right","values":[0.01,0.02,0.03,0.04,0.05,0.06,0.07,0.08,0.09],"format":".2f","labelFontSize":22,"labelColor":"#404040","labelPadding":11}},
"fill":{"field":"v","type":"quantitative","legend":null},"stroke":{"field":"v","type":"quantitative","legend":null}}}
]},
{"bounds":"flush","spacing":37,"hconcat":[
{"width":534,"height":463,"title":{"text":"Low-frequency Compensation","offset":10,"fontSize":26},
"resolve":{"axis":{"x":"independent","y":"independent"}},
"layer":[
{"data":{"name":"lf"},"mark":{"type":"rect","strokeWidth":0.7,"clip":true},"encoding":{
"x":{"field":"x","type":"quantitative","bin":{"extent":[0.5,300.5],"step":15,"nice":false},"scale":{"domain":[0.5,300.5],"nice":false,"zero":false},"title":"Distance r (m)","axis":{"values":[50,100,150,200,250,300],"labelFontSize":24,"titleFontSize":26,"labelPadding":18,"titlePadding":11}},
"y":{"field":"y","type":"quantitative","bin":{"extent":[0.5,300.5],"step":15,"nice":false},"scale":{"domain":[0.5,300.5],"nice":false,"zero":false,"range":[4,463]},"title":"Distance r (m)","axis":{"values":[50,100,150,200,250,300],"labelFontSize":24,"titleFontSize":26,"labelPadding":9,"titlePadding":12}},
"fill":{"field":"v","type":"quantitative","legend":null,"scale":{"domain":[-0.0244,-0.01923,-0.01406,-0.01292,-0.01272,-0.00889,-0.00372,0.00145,0.00662,0.00946,0.00972,0.01282,0.01593,0.01903,0.02058,0.02368,0.0273],"range":["#3e1f96","#4a2fc4","#3f50f0","#3a5cff","#0070ff","#0082ee","#00a0dc","#00b5c0","#00c48e","#00cc66","#5cc448","#8cc030","#c4b800","#f0b000","#ffae28","#ffcc00","#ffff00"]}},
"stroke":{"field":"v","type":"quantitative","legend":null,"scale":{"domain":[-0.0244,-0.01923,-0.01406,-0.01292,-0.01272,-0.00889,-0.00372,0.00145,0.00662,0.00946,0.00972,0.01282,0.01593,0.01903,0.02058,0.02368,0.0273],"range":["#3e1f96","#4a2fc4","#3f50f0","#3a5cff","#0070ff","#0082ee","#00a0dc","#00b5c0","#00c48e","#00cc66","#5cc448","#8cc030","#c4b800","#f0b000","#ffae28","#ffcc00","#ffff00"]}}}},
{"data":{"values":[{"x":30,"y":21,"t":"(b)"}]},"mark":{"type":"text","fontSize":22,"color":"#111111"},"encoding":{"x":{"field":"x","type":"quantitative","axis":{"orient":"top","labels":false,"title":null,"values":[50,100,150,200,250,300],"offset":-4}},"y":{"field":"y","type":"quantitative","axis":{"orient":"right","labels":false,"title":null,"values":[50,100,150,200,250,300]}},"text":{"field":"t"}}}
]},
{"width":36,"height":463,"data":{"name":"cbb"},"mark":{"type":"rect","strokeWidth":0.7,"clip":true},"encoding":{
"y":{"field":"v","type":"quantitative","bin":{"extent":[-0.0244,0.02732],"step":0.000808,"nice":false},"scale":{"domain":[-0.0244,0.0273],"nice":false,"zero":false,"range":[463,4]},"title":null,"axis":{"orient":"right","values":[-0.02,-0.01,0,0.01,0.02],"labelExpr":"datum.value<0 ? '-' + format(-datum.value,'.2f') : datum.value==0 ? '0' : format(datum.value,'.2f')","labelFontSize":25,"labelPadding":11}},
"fill":{"field":"v","type":"quantitative","legend":null},"stroke":{"field":"v","type":"quantitative","legend":null}}}
]}
]}
